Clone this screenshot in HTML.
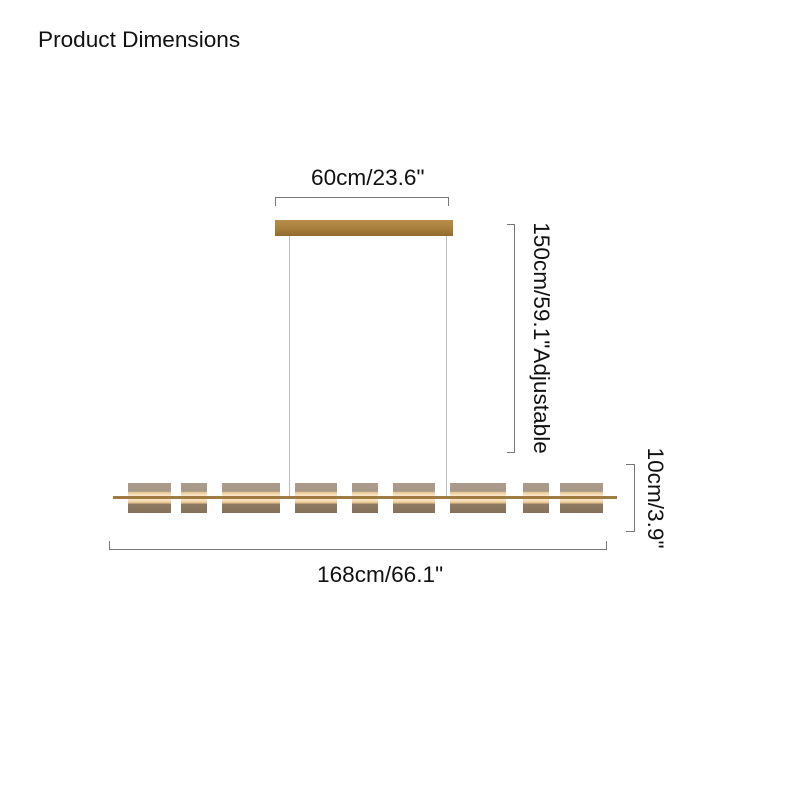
<!DOCTYPE html>
<html><head><style>
body{margin:0;width:800px;height:800px;background:#fff;position:relative;overflow:hidden;font-family:"Liberation Sans",Arial,sans-serif;color:#111}
.a{position:absolute}
.t{position:absolute;font-size:22.6px;white-space:nowrap}
.r{transform:translate(-50%,-50%) rotate(90deg);transform-origin:center}
.ln{position:absolute;background:#777}
.sh{position:absolute;top:483px;height:30px;background:linear-gradient(#ab9b8c 0,#a89888 28%,#e8c894 31%,#fbe8c8 42%,#f8e2bc 58%,#e4c08a 67%,#8f7a64 70%,#86705a 100%)}
</style></head><body>
<div class="t" style="left:38px;top:27px">Product Dimensions</div>
<div class="t" style="left:311px;top:165px">60cm/23.6"</div>
<div class="ln" style="left:275px;top:197px;width:174px;height:1px"></div>
<div class="ln" style="left:275px;top:197px;width:1px;height:9px"></div>
<div class="ln" style="left:448px;top:197px;width:1px;height:9px"></div>
<div class="a" style="left:275px;top:220px;width:178px;height:16px;background:linear-gradient(#b88e4a,#a57c3a 60%,#8e6a30)"></div>
<div class="a" style="left:289px;top:236px;width:1px;height:261px;background:#bbb"></div>
<div class="a" style="left:446px;top:236px;width:1px;height:261px;background:#bbb"></div>
<div class="ln" style="left:514px;top:224px;width:1px;height:229px"></div>
<div class="ln" style="left:507px;top:224px;width:8px;height:1px"></div>
<div class="ln" style="left:507px;top:452px;width:8px;height:1px"></div>
<div class="t r" style="left:541px;top:338px">150cm/59.1"Adjustable</div>
<div class="ln" style="left:634px;top:464px;width:1px;height:68px"></div>
<div class="ln" style="left:626px;top:464px;width:9px;height:1px"></div>
<div class="ln" style="left:626px;top:531px;width:9px;height:1px"></div>
<div class="t r" style="left:655px;top:498px">10cm/3.9"</div>
<div class="sh" style="left:128px;width:43px"></div>
<div class="sh" style="left:181px;width:26px"></div>
<div class="sh" style="left:222px;width:58px"></div>
<div class="sh" style="left:295px;width:42px"></div>
<div class="sh" style="left:352px;width:26px"></div>
<div class="sh" style="left:393px;width:42px"></div>
<div class="sh" style="left:450px;width:56px"></div>
<div class="sh" style="left:523px;width:26px"></div>
<div class="sh" style="left:560px;width:43px"></div>
<div class="a" style="left:113px;top:496px;width:504px;height:3px;background:#a07c42"></div>
<div class="ln" style="left:109px;top:549px;width:498px;height:1px"></div>
<div class="ln" style="left:109px;top:541px;width:1px;height:9px"></div>
<div class="ln" style="left:606px;top:541px;width:1px;height:9px"></div>
<div class="t" style="left:317px;top:562px">168cm/66.1"</div>
</body></html>
